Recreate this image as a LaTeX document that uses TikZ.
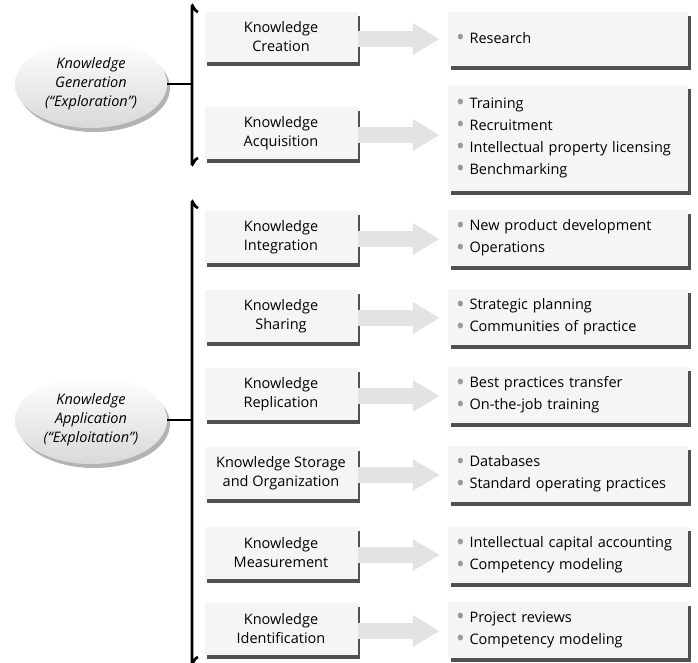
\documentclass[tikz,border=0pt]{standalone}
\usepackage{fontspec}
\setmainfont{Open Sans}
\usetikzlibrary{arrows.meta,shadows,shapes.geometric}

\newcommand{\itm}{\textcolor{gray!80}{\raisebox{-.3ex}{\scalebox{1.6}{\textbullet}}}\ }

\begin{document}
\begin{tikzpicture}[x=1pt,y=-1pt,font=\fontsize{14.5}{19}\selectfont,
    lbox/.style={fill=gray!8, minimum width=153pt, minimum height=52pt, align=center,
      drop shadow={shadow xshift=2pt, shadow yshift=-4pt, opacity=.85, fill=black!80}},
    rbox/.style={fill=gray!8, minimum width=240pt, text width=224pt, inner xsep=8pt, align=left,
      font=\fontsize{14.5}{22}\selectfont,
      drop shadow={shadow xshift=3pt, shadow yshift=-4pt, opacity=.85, fill=black!80}},
    kind/.style={ellipse, top color=white, bottom color=gray!30, minimum width=152pt,
      minimum height=88pt, inner sep=0pt, align=center, font=\fontsize{14.5}{19}\selectfont\itshape,
      drop shadow={shadow xshift=3pt, shadow yshift=-4pt, opacity=.6}},
    brace/.style={line width=2.6pt},
    fat/.style={line width=16pt, draw=gray!22, -{Triangle[width=30pt,length=27pt]}, shorten >=8pt}]
  \useasboundingbox (0,0) rectangle (698,662);

  % generation side
  \node[kind] (gen) at (91,84) {Knowledge\\Generation\\(“Exploration”)};
  \node[lbox, minimum height=50pt] (kc) at (281,37) {Knowledge\\Creation};
  \node[lbox] (ka) at (281,133) {Knowledge\\Acquisition};
  \node[rbox, minimum height=54pt] (res) at (568,39) {\itm Research};
  \node[rbox, minimum height=106pt] (acq) at (568,138)
    {\itm Training\\\itm Recruitment\\\itm Intellectual property licensing\\\itm Benchmarking};

  % application side
  \node[kind] (app) at (91,420) {Knowledge\\Application\\(“Exploitation”)};
  \node[lbox] (ki) at (281,237) {Knowledge\\Integration};
  \node[lbox] (ks) at (281,316) {Knowledge\\Sharing};
  \node[lbox] (kr) at (281,394) {Knowledge\\Replication};
  \node[lbox] (ko) at (281,473) {Knowledge Storage\\and Organization};
  \node[lbox] (km) at (281,553) {Knowledge\\Measurement};
  \node[lbox] (kd) at (281,629) {Knowledge\\Identification};
  \node[rbox, minimum height=56pt] (int) at (568,238) {\itm New product development\\\itm Operations};
  \node[rbox, minimum height=56pt] (sha) at (568,317) {\itm Strategic planning\\\itm Communities of practice};
  \node[rbox, minimum height=56pt] (rep) at (568,395) {\itm Best practices transfer\\\itm On-the-job training};
  \node[rbox, minimum height=56pt] (sto) at (568,474) {\itm Databases\\\itm Standard operating practices};
  \node[rbox, minimum height=56pt] (mea) at (568,555) {\itm Intellectual capital accounting\\\itm Competency modeling};
  \node[rbox, minimum height=56pt] (ide) at (568,630) {\itm Project reviews\\\itm Competency modeling};

  % fat arrows
  \foreach \a/\b in {kc/res,ka/acq,ki/int,ks/sha,kr/rep,ko/sto,km/mea,kd/ide}
    \draw[fat] ([yshift=-2pt]\a.east) -- ([yshift=-2pt]\a.east -| \b.west);

  % brackets
  \coordinate (gtop) at (192,12);
  \coordinate (gbot) at (192,158);
  \coordinate (atop) at (192,208);
  \coordinate (abot) at (192,657);
  \draw[brace] ([xshift=6pt]gtop) to[out=180,in=90] ([yshift=6pt]gtop) -- ([yshift=-6pt]gbot)
    to[out=-90,in=180] ([xshift=6pt]gbot);
  \draw[brace] ([xshift=6pt]atop) to[out=180,in=90] ([yshift=6pt]atop) -- ([yshift=-6pt]abot)
    to[out=-90,in=180] ([xshift=6pt]abot);
  \draw[brace] (gen.east) -- (gen.east -| gtop);
  \draw[brace] (app.east) -- (app.east -| atop);
\end{tikzpicture}
\end{document}
